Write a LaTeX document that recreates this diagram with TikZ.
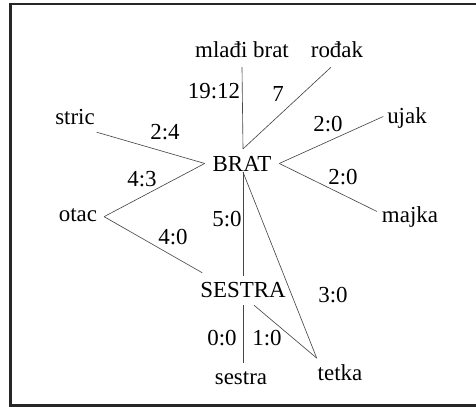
\documentclass[tikz,border=0pt]{standalone}
\usepackage{fontspec}
\setmainfont{Liberation Serif}
\definecolor{framegray}{RGB}{38, 38, 38}
\definecolor{linegray}{RGB}{70, 70, 70}
\usetikzlibrary{calc}
\tikzset{
  word/.style={font=\fontsize{16.3}{19}\selectfont, inner sep=0pt, outer sep=0pt, anchor=base},
  score/.style={word},
  link/.style={draw=linegray, line width=0.45pt}
}

\begin{document}
\begin{tikzpicture}[x=0.025cm, y=-0.025cm]
  \useasboundingbox (0,0) rectangle (476,407);
  \clip (0,0) rectangle (476,407);

  % Frame
  \draw[framegray, line width=2.1pt] (10.5,4) rectangle (500,405.5);

  % Centre words
  \node[word] (brat) at (242, 172) {BRAT};
  \node[word] (sestraU) at (243, 298) {SESTRA};

  % Outer words
  \node[word] (mb) at (242, 58) {mlađi brat};
  \node[word] (rodak) at (337, 58) {rođak};
  \node[word] (stric) at (75, 125) {stric};
  \node[word] (ujak) at (407, 124) {ujak};
  \node[word] (otac) at (78, 222) {otac};
  \node[word] (majka) at (410, 223) {majka};
  \node[word] (sestraL) at (241, 385) {sestra};
  \node[word] (tetka) at (340, 381) {tetka};

  % Links
  \coordinate (bratTop) at ($(brat.north)+(1,-8)$);
  \coordinate (bratLeft) at ($(brat.west)+(-8,-1)$);
  \coordinate (bratRight) at ($(brat.east)+(8,-1)$);
  \coordinate (otacTip) at ($(otac.east)+(7,1)$);
  \coordinate (tetkaTip) at ($(tetka.north west)+(-1,-7)$);

  \draw[link] ($(mb.south)+(0,9)$) -- (bratTop);
  \draw[link] ($(rodak.south)+(-6,9)$) -- (bratTop);
  \draw[link] ($(stric.south east)+(2,7)$) -- (bratLeft);
  \draw[link] (otacTip) -- (bratLeft);
  \draw[link] (otacTip) -- ($(sestraU.north west)+(2,-10)$);
  \draw[link] ($(ujak.west)+(-4,-2)$) -- (bratRight);
  \draw[link] (bratRight) -- ($(majka.west)+(-5,-6)$);
  \draw[link] ($(brat.south)+(1,0)$) -- ($(sestraU.north)+(0,-7)$);
  \draw[link] ($(brat.south)+(1,0)$) -- (tetkaTip);
  \draw[link] ($(sestraU.south)+(11,7)$) -- (tetkaTip);
  \draw[link] ($(sestraU.south)+(0,7)$) -- ($(sestraL.north)+(2,-9)$);

  % Scores
  \node[score] (s1912) at (214, 99) {19:12};
  \node[score] (s7) at (278, 102) {7};
  \node[score] (s24) at (165, 140) {2:4};
  \node[score] (s20u) at (328, 132) {2:0};
  \node[score] (s43) at (142, 187) {4:3};
  \node[score] (s20m) at (343, 185) {2:0};
  \node[score] (s50) at (227, 227) {5:0};
  \node[score] (s40) at (173, 245) {4:0};
  \node[score] (s30) at (333, 303) {3:0};
  \node[score] (s00) at (222, 346) {0:0};
  \node[score] (s10) at (267, 346) {1:0};
\end{tikzpicture}
\end{document}
